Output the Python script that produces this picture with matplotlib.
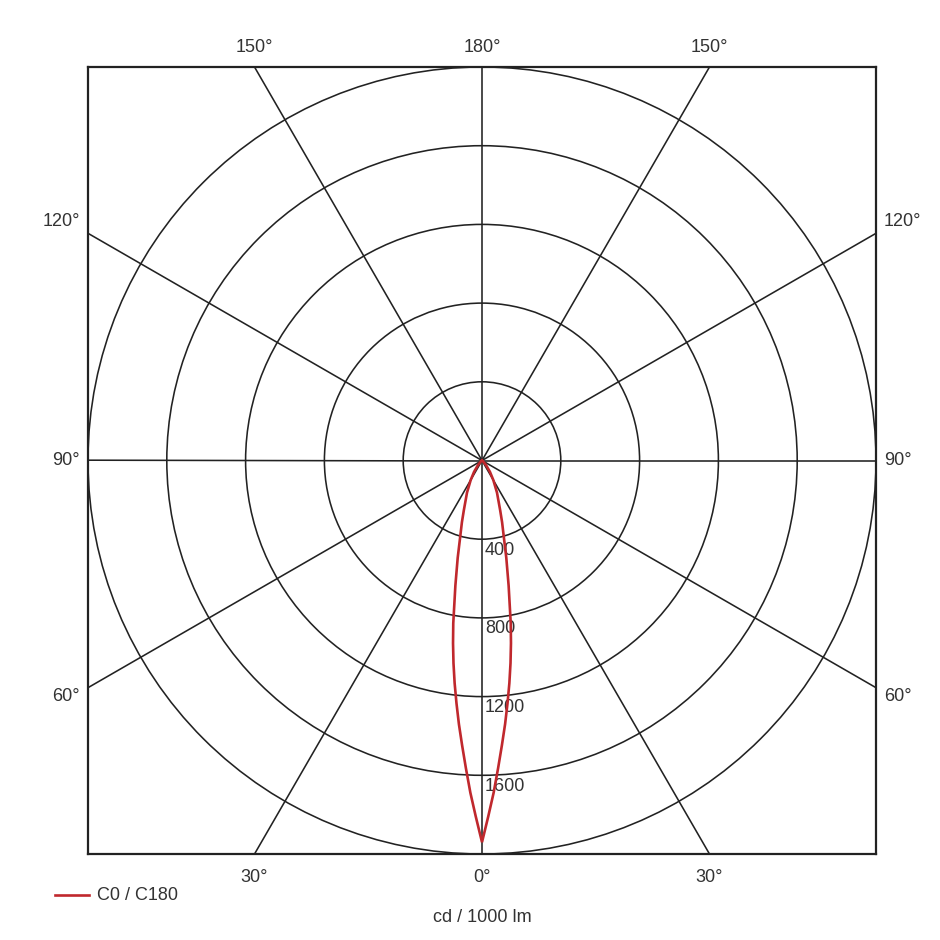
import numpy as np
import matplotlib.pyplot as plt
from matplotlib.patches import Circle

plt.rcParams['font.family'] = ['Liberation Sans', 'DejaVu Sans']

# luminous intensity distribution, gamma angle (deg) from nadir -> cd / 1000 lm
gamma = [0, 1, 2, 3, 4, 5, 6, 7, 8, 9, 10, 12, 14, 16, 18, 20, 25, 30, 35, 40, 45, 50, 60, 90]
c0_c180 = [1940, 1810, 1690, 1565, 1450, 1345, 1240, 1140, 1040, 940, 840, 650, 510, 400,
           330, 270, 180, 115, 70, 35, 15, 5, 0, 0]

ring_values = [400, 800, 1200, 1600, 2000]
ring_labels = ['400', '800', '1200', '1600']
spoke_angles = list(range(0, 360, 30))
r_max = 2000

fig = plt.figure(figsize=(9.4, 9.4), dpi=100)
ax = fig.add_axes([88 / 940, 86 / 940, 788 / 940, 787 / 940])
ax.set_xlim(-r_max, r_max)
ax.set_ylim(-r_max, r_max)
ax.set_aspect('auto')
ax.set_xticks([])
ax.set_yticks([])
for s in ax.spines.values():
    s.set_linewidth(1.6)
    s.set_color('#222222')

grid_kw = dict(color='#222222', lw=1.15, zorder=1)
for r in ring_values:
    ax.add_patch(Circle((0, 0), r, fill=False, **grid_kw))
for a in spoke_angles:
    t = np.radians(a)
    ax.plot([0, 3 * r_max * np.sin(t)], [0, -3 * r_max * np.cos(t)], **grid_kw)

lab_kw = dict(fontsize=13, color='#333333')
for r, lab in zip(ring_values, ring_labels):
    ax.text(15, -r - 12, lab, ha='left', va='top', zorder=3, **lab_kw)

# curve: C0 on the right, C180 mirrored to the left
g = np.radians(np.array(gamma, dtype=float))
I = np.array(c0_c180, dtype=float)
xs = np.concatenate([-(I * np.sin(g))[::-1], (I * np.sin(g))[1:]])
ys = np.concatenate([-(I * np.cos(g))[::-1], -(I * np.cos(g))[1:]])
ax.plot(xs, ys, color='#c0282d', lw=1.9, zorder=4, solid_joinstyle='miter')

# angle labels around the frame
t30 = r_max * np.tan(np.radians(30))
for x, txt in [(-t30, '30°'), (0, '0°'), (t30, '30°')]:
    ax.text(x, -r_max - 75, txt, ha='center', va='top', **lab_kw)
for x, txt in [(-t30, '150°'), (0, '180°'), (t30, '150°')]:
    ax.text(x, r_max + 55, txt, ha='center', va='bottom', **lab_kw)
for y, txt in [(-t30 - 45, '60°'), (0, '90°'), (t30 + 60, '120°')]:
    ax.text(-r_max - 40, y, txt, ha='right', va='center', **lab_kw)
    ax.text(r_max + 40, y, txt, ha='left', va='center', **lab_kw)

# legend and unit
fig.lines.append(plt.Line2D([55 / 940, 89 / 940], [1 - 895 / 940] * 2,
                            transform=fig.transFigure, color='#c0282d', lw=1.9))
fig.text(97 / 940, 1 - 895 / 940, 'C0 / C180', ha='left', va='center', **lab_kw)
fig.text(482 / 940, 1 - 917 / 940, 'cd / 1000 lm', ha='center', va='center', **lab_kw)

fig.savefig('out.png', dpi=100, facecolor='white')
